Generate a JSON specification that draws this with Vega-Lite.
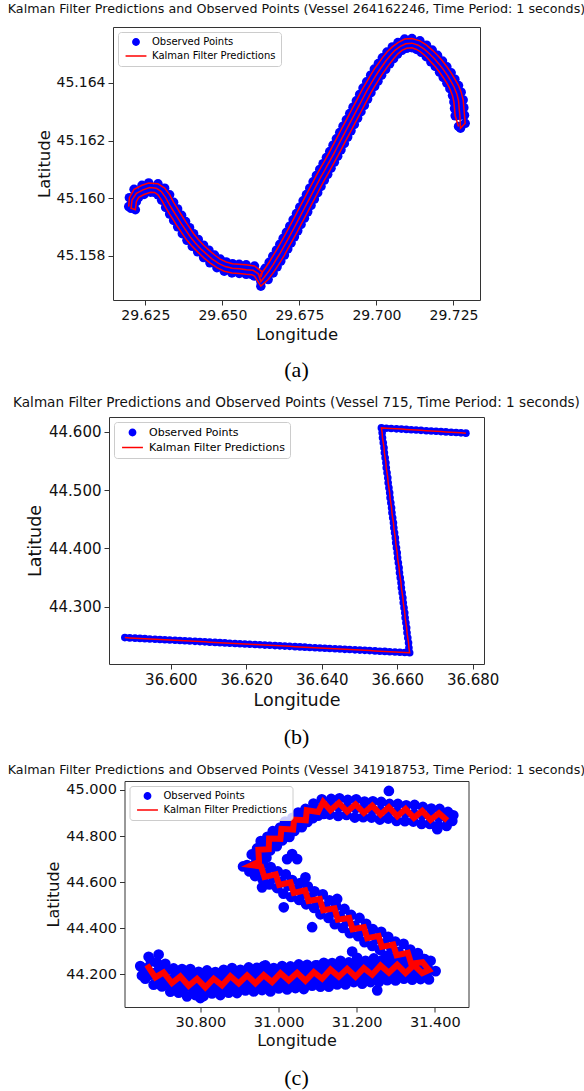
{
"$schema":"https://vega.github.io/schema/vega-lite/v6.json",
"autosize":{"type":"none"},
"padding":{"left":109,"top":27,"right":475,"bottom":1064},
"background":"white",
"spacing":40,
"center":true,
"bounds":"flush",
"resolve":{"scale":{"color":"independent","shape":"independent"},"legend":{"color":"independent","shape":"independent"}},
"config":{
"font":"DejaVu Sans",
"view":{"stroke":"#333333","strokeWidth":1},
"axis":{"domain":false,"grid":false,"tickColor":"#333333","tickSize":5,"tickWidth":1,"labelPadding":3,"titlePadding":4,"labelColor":"#111111","titleColor":"#111111","labelFont":"DejaVu Sans","titleFont":"DejaVu Sans","titleFontWeight":"normal","labelOverlap":false,"labelFlush":false},
"title":{"font":"DejaVu Sans","fontWeight":"normal","color":"#111111","anchor":"middle","frame":"group"},
"legend":{"orient":"top-left","offset":5,"padding":5,"fillColor":"rgba(255,255,255,0.8)","strokeColor":"#cccccc","cornerRadius":3,"labelFont":"DejaVu Sans","labelFontSize":10,"labelColor":"#000000","symbolSize":40,"symbolStrokeWidth":1.5,"rowPadding":2,"symbolOffset":8,"labelOffset":11}
},
"datasets":{
"a":[
{"x":29.6196,"y":45.15971},{"x":29.61982,"y":45.16002},{"x":29.62133,"y":45.16031},{"x":29.62392,"y":45.16045},{"x":29.62608,"y":45.16053},{"x":29.6291,"y":45.1605},{"x":29.63126,"y":45.16035},{"x":29.63288,"y":45.16012},{"x":29.63418,"y":45.15986},{"x":29.63548,"y":45.15963},{"x":29.63677,"y":45.15941},{"x":29.63807,"y":45.15919},{"x":29.63936,"y":45.15898},{"x":29.64066,"y":45.15877},{"x":29.64217,"y":45.15857},{"x":29.6439,"y":45.15837},{"x":29.64563,"y":45.1582},{"x":29.64746,"y":45.15803},{"x":29.6493,"y":45.15789},{"x":29.65124,"y":45.15779},{"x":29.6533,"y":45.15773},{"x":29.65546,"y":45.15771},{"x":29.65772,"y":45.15769},{"x":29.66042,"y":45.15765},{"x":29.66302,"y":45.15744},{"x":29.66248,"y":45.15727},{"x":29.66248,"y":45.15736},{"x":29.66388,"y":45.15757},{"x":29.66518,"y":45.15778},{"x":29.66636,"y":45.15799},{"x":29.66755,"y":45.1582},{"x":29.66863,"y":45.1584},{"x":29.66971,"y":45.15861},{"x":29.67079,"y":45.15882},{"x":29.67187,"y":45.15903},{"x":29.67295,"y":45.15925},{"x":29.67403,"y":45.15947},{"x":29.67511,"y":45.15969},{"x":29.67619,"y":45.15991},{"x":29.67727,"y":45.16013},{"x":29.67835,"y":45.16035},{"x":29.67943,"y":45.16057},{"x":29.68051,"y":45.16079},{"x":29.68159,"y":45.161},{"x":29.68267,"y":45.1612},{"x":29.68375,"y":45.16141},{"x":29.68483,"y":45.16162},{"x":29.68591,"y":45.16184},{"x":29.68699,"y":45.16206},{"x":29.68807,"y":45.16228},{"x":29.68915,"y":45.1625},{"x":29.69023,"y":45.16272},{"x":29.69131,"y":45.16294},{"x":29.69239,"y":45.16316},{"x":29.69347,"y":45.16338},{"x":29.69455,"y":45.1636},{"x":29.69563,"y":45.16382},{"x":29.69682,"y":45.16404},{"x":29.69812,"y":45.16427},{"x":29.6993,"y":45.16448},{"x":29.7006,"y":45.16467},{"x":29.7019,"y":45.16487},{"x":29.70341,"y":45.16507},{"x":29.70514,"y":45.16525},{"x":29.70697,"y":45.1654},{"x":29.70913,"y":45.16552},{"x":29.71151,"y":45.16554},{"x":29.7141,"y":45.16546},{"x":29.71626,"y":45.16531},{"x":29.7181,"y":45.16514},{"x":29.71982,"y":45.16496},{"x":29.72144,"y":45.16476},{"x":29.72285,"y":45.16456},{"x":29.72425,"y":45.16435},{"x":29.72544,"y":45.16413},{"x":29.72663,"y":45.16391},{"x":29.72749,"y":45.16368},{"x":29.72814,"y":45.16341},{"x":29.72836,"y":45.16314},{"x":29.72857,"y":45.16288},{"x":29.72879,"y":45.1626},
{"x":29.72728,"y":45.16243},{"x":29.72706,"y":45.16287},{"x":29.72684,"y":45.16312},{"x":29.72663,"y":45.16338},{"x":29.72609,"y":45.16362},{"x":29.72522,"y":45.16385},{"x":29.72414,"y":45.16406},{"x":29.72296,"y":45.16427},{"x":29.72166,"y":45.16447},{"x":29.72026,"y":45.16466},{"x":29.71874,"y":45.16485},{"x":29.71712,"y":45.16502},{"x":29.7154,"y":45.16518},{"x":29.71356,"y":45.16531},{"x":29.71151,"y":45.16538},{"x":29.70946,"y":45.16536},{"x":29.70762,"y":45.16526},{"x":29.706,"y":45.16513},{"x":29.70449,"y":45.16495},{"x":29.70308,"y":45.16477},{"x":29.70179,"y":45.16457},{"x":29.70049,"y":45.16437},{"x":29.6993,"y":45.16417},{"x":29.69812,"y":45.16396},{"x":29.69693,"y":45.16374},{"x":29.69585,"y":45.16352},{"x":29.69477,"y":45.1633},{"x":29.69369,"y":45.16308},{"x":29.69261,"y":45.16286},{"x":29.69153,"y":45.16264},{"x":29.69045,"y":45.16242},{"x":29.68937,"y":45.1622},{"x":29.68829,"y":45.16198},{"x":29.68721,"y":45.16176},{"x":29.68613,"y":45.16154},{"x":29.68505,"y":45.16133},{"x":29.68397,"y":45.16112},{"x":29.68289,"y":45.16091},{"x":29.68181,"y":45.16071},{"x":29.68073,"y":45.16049},{"x":29.67965,"y":45.16027},{"x":29.67857,"y":45.16005},{"x":29.67749,"y":45.15983},{"x":29.67641,"y":45.15961},{"x":29.67533,"y":45.15939},{"x":29.67425,"y":45.15917},{"x":29.67317,"y":45.15895},{"x":29.67209,"y":45.15874},{"x":29.67101,"y":45.15853},{"x":29.66993,"y":45.15832},{"x":29.66885,"y":45.15811},{"x":29.66766,"y":45.15791},{"x":29.66647,"y":45.1577},{"x":29.66518,"y":45.15749},{"x":29.66366,"y":45.15727},{"x":29.66248,"y":45.15711},{"x":29.66172,"y":45.15737},{"x":29.65999,"y":45.1575},{"x":29.65772,"y":45.15752},{"x":29.65546,"y":45.15755},{"x":29.65319,"y":45.15757},{"x":29.65092,"y":45.15763},{"x":29.64876,"y":45.15774},{"x":29.64671,"y":45.15789},{"x":29.64476,"y":45.15807},{"x":29.64293,"y":45.15825},{"x":29.6412,"y":45.15845},{"x":29.63958,"y":45.15866},{"x":29.63818,"y":45.15888},{"x":29.63677,"y":45.1591},{"x":29.63548,"y":45.15932},{"x":29.63418,"y":45.15954},{"x":29.63288,"y":45.15977},{"x":29.63159,"y":45.16002},{"x":29.63018,"y":45.16023},{"x":29.62856,"y":45.16035},{"x":29.6264,"y":45.16037},{"x":29.62424,"y":45.16029},{"x":29.62208,"y":45.16017},{"x":29.62068,"y":45.15994},{"x":29.62036,"y":45.15965},
{"x":29.62176,"y":45.1596},{"x":29.62208,"y":45.15988},{"x":29.62284,"y":45.16003},{"x":29.62457,"y":45.16013},{"x":29.62673,"y":45.16021},{"x":29.62802,"y":45.1602},{"x":29.6291,"y":45.16012},{"x":29.63029,"y":45.15993},{"x":29.63159,"y":45.15968},{"x":29.63288,"y":45.15945},{"x":29.63418,"y":45.15923},{"x":29.63548,"y":45.15901},{"x":29.63699,"y":45.15877},{"x":29.6385,"y":45.15854},{"x":29.64023,"y":45.15833},{"x":29.64196,"y":45.15814},{"x":29.6439,"y":45.15794},{"x":29.64595,"y":45.15776},{"x":29.64822,"y":45.15759},{"x":29.6506,"y":45.15747},{"x":29.65308,"y":45.15741},{"x":29.65546,"y":45.15739},{"x":29.65772,"y":45.15736},{"x":29.65956,"y":45.15735},{"x":29.66042,"y":45.1573},{"x":29.66248,"y":45.15695},{"x":29.66485,"y":45.15718},{"x":29.66647,"y":45.15741},{"x":29.66777,"y":45.15762},{"x":29.66896,"y":45.15782},{"x":29.67014,"y":45.15803},{"x":29.67122,"y":45.15824},{"x":29.6723,"y":45.15845},{"x":29.67338,"y":45.15866},{"x":29.67446,"y":45.15887},{"x":29.67554,"y":45.15909},{"x":29.67662,"y":45.15931},{"x":29.6777,"y":45.15953},{"x":29.67878,"y":45.15975},{"x":29.67986,"y":45.15997},{"x":29.68094,"y":45.16019},{"x":29.68202,"y":45.16041},{"x":29.6831,"y":45.16063},{"x":29.68418,"y":45.16083},{"x":29.68526,"y":45.16104},{"x":29.68634,"y":45.16125},{"x":29.68742,"y":45.16146},{"x":29.6885,"y":45.16168},{"x":29.68958,"y":45.1619},{"x":29.69066,"y":45.16212},{"x":29.69174,"y":45.16234},{"x":29.69282,"y":45.16256},{"x":29.6939,"y":45.16278},{"x":29.69498,"y":45.163},{"x":29.69606,"y":45.16322},{"x":29.69714,"y":45.16344},{"x":29.69822,"y":45.16366},{"x":29.69941,"y":45.16388},{"x":29.70049,"y":45.16406},{"x":29.70168,"y":45.16427},{"x":29.70298,"y":45.16447},{"x":29.70427,"y":45.16466},{"x":29.70557,"y":45.16484},{"x":29.70686,"y":45.165},{"x":29.70827,"y":45.16513},{"x":29.70978,"y":45.1652},{"x":29.71151,"y":45.16522},{"x":29.71302,"y":45.16516},{"x":29.71453,"y":45.16506},{"x":29.71615,"y":45.16491},{"x":29.71766,"y":45.16473},{"x":29.71907,"y":45.16457},{"x":29.72047,"y":45.16437},{"x":29.72166,"y":45.16419},{"x":29.72285,"y":45.16399},{"x":29.72382,"y":45.1638},{"x":29.72468,"y":45.16356},{"x":29.72512,"y":45.16334},{"x":29.72533,"y":45.16311},{"x":29.72555,"y":45.16286},{"x":29.72663,"y":45.16249}
],
"b":[
{"x":36.5878,"y":44.247},{"x":36.5891,"y":44.2465},{"x":36.5905,"y":44.2461},{"x":36.5918,"y":44.2456},{"x":36.5931,"y":44.2452},{"x":36.5944,"y":44.2447},{"x":36.5958,"y":44.2443},{"x":36.5971,"y":44.2438},{"x":36.5984,"y":44.2434},{"x":36.5997,"y":44.2429},{"x":36.6011,"y":44.2424},{"x":36.6024,"y":44.242},{"x":36.6037,"y":44.2415},{"x":36.605,"y":44.2411},{"x":36.6064,"y":44.2406},{"x":36.6077,"y":44.2402},{"x":36.609,"y":44.2397},{"x":36.6103,"y":44.2392},{"x":36.6117,"y":44.2388},{"x":36.613,"y":44.2383},{"x":36.6143,"y":44.2379},{"x":36.6156,"y":44.2374},{"x":36.617,"y":44.237},{"x":36.6183,"y":44.2365},{"x":36.6196,"y":44.2361},{"x":36.6209,"y":44.2356},{"x":36.6223,"y":44.2351},{"x":36.6236,"y":44.2347},{"x":36.6249,"y":44.2342},{"x":36.6262,"y":44.2338},{"x":36.6276,"y":44.2333},{"x":36.6289,"y":44.2329},{"x":36.6302,"y":44.2324},{"x":36.6315,"y":44.232},{"x":36.6329,"y":44.2315},{"x":36.6342,"y":44.231},{"x":36.6355,"y":44.2306},{"x":36.6368,"y":44.2301},{"x":36.6382,"y":44.2297},{"x":36.6395,"y":44.2292},{"x":36.6408,"y":44.2288},{"x":36.6421,"y":44.2283},{"x":36.6435,"y":44.2278},{"x":36.6448,"y":44.2274},{"x":36.6461,"y":44.2269},{"x":36.6474,"y":44.2265},{"x":36.6488,"y":44.226},{"x":36.6501,"y":44.2256},{"x":36.6514,"y":44.2251},{"x":36.6527,"y":44.2247},{"x":36.6541,"y":44.2242},{"x":36.6554,"y":44.2237},{"x":36.6567,"y":44.2233},{"x":36.658,"y":44.2228},{"x":36.6594,"y":44.2224},{"x":36.6607,"y":44.2219},{"x":36.662,"y":44.2215},{"x":36.6633,"y":44.221},
{"x":36.6631,"y":44.2296},{"x":36.663,"y":44.2382},{"x":36.6628,"y":44.2467},{"x":36.6626,"y":44.2553},{"x":36.6625,"y":44.2639},{"x":36.6623,"y":44.2725},{"x":36.6621,"y":44.2811},{"x":36.662,"y":44.2896},{"x":36.6618,"y":44.2982},{"x":36.6616,"y":44.3068},{"x":36.6615,"y":44.3154},{"x":36.6613,"y":44.324},{"x":36.6611,"y":44.3325},{"x":36.661,"y":44.3411},{"x":36.6608,"y":44.3497},{"x":36.6606,"y":44.3583},{"x":36.6605,"y":44.3669},{"x":36.6603,"y":44.3754},{"x":36.6601,"y":44.384},{"x":36.66,"y":44.3926},{"x":36.6598,"y":44.4012},{"x":36.6596,"y":44.4098},{"x":36.6595,"y":44.4183},{"x":36.6593,"y":44.4269},{"x":36.6591,"y":44.4355},{"x":36.659,"y":44.4441},{"x":36.6588,"y":44.4527},{"x":36.6586,"y":44.4612},{"x":36.6585,"y":44.4698},{"x":36.6583,"y":44.4784},{"x":36.6581,"y":44.487},{"x":36.658,"y":44.4956},{"x":36.6578,"y":44.5041},{"x":36.6576,"y":44.5127},{"x":36.6575,"y":44.5213},{"x":36.6573,"y":44.5299},{"x":36.6571,"y":44.5385},{"x":36.657,"y":44.547},{"x":36.6568,"y":44.5556},{"x":36.6566,"y":44.5642},{"x":36.6565,"y":44.5728},{"x":36.6563,"y":44.5814},{"x":36.6561,"y":44.5899},{"x":36.656,"y":44.5985},{"x":36.6558,"y":44.607},
{"x":36.6571,"y":44.6065},{"x":36.6584,"y":44.6059},{"x":36.6598,"y":44.6054},{"x":36.6611,"y":44.6049},{"x":36.6624,"y":44.6044},{"x":36.6637,"y":44.6038},{"x":36.665,"y":44.6033},{"x":36.6663,"y":44.6028},{"x":36.6677,"y":44.6022},{"x":36.669,"y":44.6017},{"x":36.6703,"y":44.6012},{"x":36.6716,"y":44.6006},{"x":36.6729,"y":44.6001},{"x":36.6743,"y":44.5996},{"x":36.6756,"y":44.5991},{"x":36.6769,"y":44.5985},{"x":36.6782,"y":44.598}
],
"c_obs":[
{"x":30.6634,"y":44.2276},{"x":30.6848,"y":44.2074},{"x":30.7061,"y":44.1916},{"x":30.7274,"y":44.1801},{"x":30.7488,"y":44.1714},{"x":30.7701,"y":44.1657},{"x":30.7915,"y":44.1642},{"x":30.8128,"y":44.1642},{"x":30.8342,"y":44.1671},{"x":30.8555,"y":44.17},{"x":30.8768,"y":44.1729},{"x":30.8982,"y":44.1757},{"x":30.9195,"y":44.1786},{"x":30.9409,"y":44.1815},{"x":30.9622,"y":44.1829},{"x":30.9836,"y":44.1844},{"x":31.0049,"y":44.1858},{"x":31.0262,"y":44.1887},{"x":31.0476,"y":44.1902},{"x":31.0689,"y":44.193},{"x":31.0903,"y":44.1959},{"x":31.1116,"y":44.1988},{"x":31.1329,"y":44.2017},{"x":31.1543,"y":44.2046},{"x":31.1756,"y":44.2074},{"x":31.197,"y":44.2103},{"x":31.2183,"y":44.2132},{"x":31.2397,"y":44.2161},{"x":31.261,"y":44.219},{"x":31.2823,"y":44.2219},{"x":31.3037,"y":44.2247},{"x":31.325,"y":44.2262},{"x":31.3464,"y":44.2262},{"x":31.3677,"y":44.2233},{"x":31.3848,"y":44.219},
{"x":30.6736,"y":44.2564},{"x":30.695,"y":44.2362},{"x":30.7163,"y":44.2204},{"x":30.7376,"y":44.2089},{"x":30.759,"y":44.2002},{"x":30.7803,"y":44.1945},{"x":30.8017,"y":44.193},{"x":30.823,"y":44.193},{"x":30.8444,"y":44.1959},{"x":30.8657,"y":44.1988},{"x":30.887,"y":44.2017},{"x":30.9084,"y":44.2045},{"x":30.9297,"y":44.2074},{"x":30.9511,"y":44.2103},{"x":30.9724,"y":44.2117},{"x":30.9938,"y":44.2132},{"x":31.0151,"y":44.2146},{"x":31.0364,"y":44.2175},{"x":31.0578,"y":44.219},{"x":31.0791,"y":44.2218},{"x":31.1005,"y":44.2247},{"x":31.1218,"y":44.2276},{"x":31.1431,"y":44.2305},{"x":31.1645,"y":44.2334},{"x":31.1858,"y":44.2362},{"x":31.2072,"y":44.2391},{"x":31.2285,"y":44.242},{"x":31.2499,"y":44.2449},{"x":31.2712,"y":44.2478},{"x":31.2925,"y":44.2507},{"x":31.3139,"y":44.2535},{"x":31.3352,"y":44.255},{"x":31.3566,"y":44.255},{"x":31.3779,"y":44.2521},
{"x":30.6736,"y":44.1988},{"x":30.695,"y":44.1786},{"x":30.7163,"y":44.1628},{"x":30.7376,"y":44.1513},{"x":30.759,"y":44.1426},{"x":30.7803,"y":44.1369},{"x":30.8017,"y":44.1354},{"x":30.823,"y":44.1354},{"x":30.8444,"y":44.1383},{"x":30.8657,"y":44.1412},{"x":30.887,"y":44.1441},{"x":30.9084,"y":44.1469},{"x":30.9297,"y":44.1498},{"x":30.9511,"y":44.1527},{"x":30.9724,"y":44.1541},{"x":30.9938,"y":44.1556},{"x":31.0151,"y":44.157},{"x":31.0364,"y":44.1599},{"x":31.0578,"y":44.1614},{"x":31.0791,"y":44.1642},{"x":31.1005,"y":44.1671},{"x":31.1218,"y":44.17},{"x":31.1431,"y":44.1729},{"x":31.1645,"y":44.1758},{"x":31.1858,"y":44.1786},{"x":31.2072,"y":44.1815},{"x":31.2285,"y":44.1844},{"x":31.2499,"y":44.1873},{"x":31.2712,"y":44.1902},{"x":31.2925,"y":44.1931},{"x":31.3139,"y":44.1959},{"x":31.3352,"y":44.1974},{"x":31.3566,"y":44.1974},{"x":31.3779,"y":44.1945},
{"x":31.3634,"y":44.2391},{"x":31.3447,"y":44.2608},{"x":31.3259,"y":44.2795},{"x":31.3071,"y":44.2982},{"x":31.2883,"y":44.3155},{"x":31.2695,"y":44.3343},{"x":31.2508,"y":44.353},{"x":31.232,"y":44.3717},{"x":31.2132,"y":44.3905},{"x":31.1944,"y":44.4106},{"x":31.1756,"y":44.4308},{"x":31.1569,"y":44.4524},{"x":31.1381,"y":44.4726},{"x":31.1193,"y":44.4928},{"x":31.1005,"y":44.5129},{"x":31.0817,"y":44.5331},{"x":31.0629,"y":44.5504},{"x":31.0442,"y":44.5677},{"x":31.0254,"y":44.585},{"x":31.0066,"y":44.6023},{"x":30.9878,"y":44.6196},{"x":30.969,"y":44.6369},{"x":30.9502,"y":44.6542},{"x":30.9349,"y":44.6714},
{"x":30.9434,"y":44.7003},{"x":30.9554,"y":44.7291},{"x":30.9682,"y":44.755},{"x":30.9827,"y":44.7781},{"x":30.9981,"y":44.7997},{"x":31.0143,"y":44.8199},{"x":31.0305,"y":44.84},{"x":31.0467,"y":44.8602},{"x":31.0629,"y":44.8804},{"x":31.0792,"y":44.9006},{"x":31.0962,"y":44.9179},{"x":31.1142,"y":44.9308},
{"x":31.1329,"y":44.9294},{"x":31.1543,"y":44.9265},{"x":31.1756,"y":44.9236},{"x":31.197,"y":44.9207},{"x":31.2183,"y":44.9179},{"x":31.2397,"y":44.915},{"x":31.261,"y":44.9107},{"x":31.2823,"y":44.9078},{"x":31.3037,"y":44.9034},{"x":31.325,"y":44.9006},{"x":31.3464,"y":44.8962},{"x":31.3677,"y":44.8919},{"x":31.3891,"y":44.8876},{"x":31.4104,"y":44.8818},{"x":31.4317,"y":44.8761},
{"x":30.6677,"y":44.2766},{"x":30.689,"y":44.2507},{"x":30.7104,"y":44.2463},{"x":30.7317,"y":44.2262},{"x":30.7531,"y":44.2233},{"x":30.7744,"y":44.2233},{"x":30.7957,"y":44.2118},{"x":30.8171,"y":44.2175},{"x":30.8384,"y":44.2103},{"x":30.8598,"y":44.2204},{"x":30.8811,"y":44.2276},{"x":30.9024,"y":44.2204},{"x":30.9238,"y":44.2305},{"x":30.9451,"y":44.2291},{"x":30.9665,"y":44.2391},{"x":30.9878,"y":44.2276},{"x":31.0092,"y":44.2363},{"x":31.0305,"y":44.2348},{"x":31.0518,"y":44.2435},{"x":31.0732,"y":44.242},{"x":31.0945,"y":44.2391},{"x":31.1159,"y":44.2507},{"x":31.1372,"y":44.2492},{"x":31.1586,"y":44.2593},{"x":31.1799,"y":44.2521},{"x":31.2012,"y":44.2608},{"x":31.2226,"y":44.2593},{"x":31.2439,"y":44.2694},{"x":31.2653,"y":44.2622},{"x":31.2866,"y":44.2709},{"x":31.308,"y":44.2766},{"x":31.3293,"y":44.2709},{"x":31.3506,"y":44.2766},{"x":31.372,"y":44.2665},{"x":31.3891,"y":44.2593},
{"x":30.6591,"y":44.1815},{"x":30.6805,"y":44.1556},{"x":30.7018,"y":44.1484},{"x":30.7232,"y":44.1253},{"x":30.7445,"y":44.121},{"x":30.7659,"y":44.1051},{"x":30.7872,"y":44.1109},{"x":30.8085,"y":44.1066},{"x":30.8299,"y":44.1181},{"x":30.8512,"y":44.1109},{"x":30.8726,"y":44.121},{"x":30.8939,"y":44.1195},{"x":30.9153,"y":44.1311},{"x":30.9366,"y":44.1267},{"x":30.9579,"y":44.1325},{"x":30.9793,"y":44.1267},{"x":31.0006,"y":44.1397},{"x":31.022,"y":44.1354},{"x":31.0433,"y":44.1412},{"x":31.0647,"y":44.1368},{"x":31.086,"y":44.1512},{"x":31.1073,"y":44.1469},{"x":31.1287,"y":44.1469},{"x":31.15,"y":44.157},{"x":31.1714,"y":44.157},{"x":31.1927,"y":44.1671},{"x":31.2141,"y":44.1599},{"x":31.2354,"y":44.1671},{"x":31.2567,"y":44.1671},{"x":31.2781,"y":44.1757},{"x":31.2994,"y":44.1743},{"x":31.3208,"y":44.1815},{"x":31.3421,"y":44.1772},{"x":31.3634,"y":44.1801},{"x":31.3848,"y":44.1786},
{"x":31.3737,"y":44.2665},{"x":31.3566,"y":44.2925},{"x":31.337,"y":44.3083},{"x":31.3199,"y":44.3328},{"x":31.2986,"y":44.3429},{"x":31.2806,"y":44.3631},{"x":31.2627,"y":44.3847},{"x":31.2414,"y":44.3962},{"x":31.2243,"y":44.4193},{"x":31.2072,"y":44.4452},{"x":31.1859,"y":44.4582},{"x":31.1688,"y":44.4841},{"x":31.1475,"y":44.4971},{"x":31.1304,"y":44.5216},{"x":31.1133,"y":44.5475},{"x":31.092,"y":44.5605},{"x":31.0749,"y":44.5821},{"x":31.0553,"y":44.5965},{"x":31.0348,"y":44.6095},{"x":31.0186,"y":44.634},{"x":30.9981,"y":44.6469},{"x":30.9801,"y":44.6657},{"x":30.9596,"y":44.6787},{"x":30.9443,"y":44.6959},
{"x":31.3523,"y":44.2103},{"x":31.3353,"y":44.2363},{"x":31.3139,"y":44.2478},{"x":31.2969,"y":44.2709},{"x":31.2755,"y":44.2809},{"x":31.2593,"y":44.3069},{"x":31.2397,"y":44.3242},{"x":31.22,"y":44.34},{"x":31.2038,"y":44.366},{"x":31.1825,"y":44.3789},{"x":31.1645,"y":44.402},{"x":31.144,"y":44.4178},{"x":31.1278,"y":44.4452},{"x":31.1073,"y":44.4611},{"x":31.0911,"y":44.4884},{"x":31.0706,"y":44.5043},{"x":31.0527,"y":44.523},{"x":31.0322,"y":44.536},{"x":31.0126,"y":44.5504},{"x":30.9964,"y":44.5749},{"x":30.9767,"y":44.5908},{"x":30.9596,"y":44.6124},{"x":30.94,"y":44.6268},{"x":30.9255,"y":44.6469},
{"x":30.9315,"y":44.7204},{"x":30.9451,"y":44.7464},{"x":30.9545,"y":44.7781},{"x":30.9716,"y":44.7968},{"x":30.9853,"y":44.8213},{"x":31.004,"y":44.8372},{"x":31.0168,"y":44.8631},{"x":31.0356,"y":44.879},{"x":31.0501,"y":44.902},{"x":31.0689,"y":44.9179},{"x":31.0894,"y":44.9409},{"x":31.1107,"y":44.9597},
{"x":30.9545,"y":44.6815},{"x":30.969,"y":44.706},{"x":30.9784,"y":44.7377},{"x":30.9955,"y":44.7565},{"x":31.0092,"y":44.781},{"x":31.0279,"y":44.7968},{"x":31.0407,"y":44.8227},{"x":31.0595,"y":44.8386},{"x":31.074,"y":44.8617},{"x":31.0877,"y":44.8775},{"x":31.1014,"y":44.889},{"x":31.1159,"y":44.8962},
{"x":31.1347,"y":44.9611},{"x":31.156,"y":44.964},{"x":31.1773,"y":44.9568},{"x":31.1987,"y":44.9597},{"x":31.22,"y":44.9496},{"x":31.2414,"y":44.951},{"x":31.2627,"y":44.9481},{"x":31.284,"y":44.9395},{"x":31.3054,"y":44.9395},{"x":31.3267,"y":44.9337},{"x":31.3481,"y":44.9352},{"x":31.3694,"y":44.9265},{"x":31.3908,"y":44.9193},{"x":31.4121,"y":44.9179},{"x":31.4335,"y":44.9049},
{"x":31.1312,"y":44.8934},{"x":31.1526,"y":44.8876},{"x":31.1739,"y":44.8919},{"x":31.1953,"y":44.8804},{"x":31.2166,"y":44.8818},{"x":31.238,"y":44.8804},{"x":31.2593,"y":44.8717},{"x":31.2806,"y":44.8761},{"x":31.302,"y":44.866},{"x":31.3233,"y":44.8645},{"x":31.3447,"y":44.8631},{"x":31.366,"y":44.853},{"x":31.3873,"y":44.853},{"x":31.4087,"y":44.8458},{"x":31.43,"y":44.8444},
{"x":31.2823,"y":44.9957},{"x":31.0476,"y":44.7003},{"x":31.0689,"y":44.621},{"x":31.0134,"y":44.4913},{"x":31.086,"y":44.4049},{"x":30.9579,"y":44.5778},{"x":30.9093,"y":44.6686},{"x":30.9195,"y":44.6743},{"x":31.1884,"y":44.2997},{"x":31.2012,"y":44.2723},{"x":31.15,"y":44.5274},{"x":31.4445,"y":44.866},{"x":31.4471,"y":44.8905},{"x":31.4019,"y":44.2146},{"x":31.2525,"y":44.1311},{"x":30.9622,"y":44.2363},{"x":31.0988,"y":44.2391},{"x":30.6933,"y":44.2867},{"x":30.6463,"y":44.2363},{"x":30.6506,"y":44.1959},{"x":30.8,"y":44.0979},{"x":31.022,"y":44.7003},{"x":31.0348,"y":44.7219},{"x":31.4061,"y":44.83}
],
"c_kf":[
{"x":30.6634,"y":44.242},{"x":30.6848,"y":44.1873},{"x":30.7061,"y":44.2089},{"x":30.7274,"y":44.1628},{"x":30.7488,"y":44.1916},{"x":30.7701,"y":44.1512},{"x":30.7915,"y":44.1815},{"x":30.8128,"y":44.144},{"x":30.8342,"y":44.1815},{"x":30.8555,"y":44.1527},{"x":30.8768,"y":44.193},{"x":30.8982,"y":44.1613},{"x":30.9195,"y":44.1959},{"x":30.9409,"y":44.1613},{"x":30.9622,"y":44.1974},{"x":30.9836,"y":44.1671},{"x":31.0049,"y":44.206},{"x":31.0262,"y":44.1743},{"x":31.0476,"y":44.2074},{"x":31.0689,"y":44.1729},{"x":31.0903,"y":44.2103},{"x":31.1116,"y":44.1815},{"x":31.1329,"y":44.2219},{"x":31.1543,"y":44.1902},{"x":31.1756,"y":44.2247},{"x":31.197,"y":44.1902},{"x":31.2183,"y":44.2276},{"x":31.2397,"y":44.1988},{"x":31.261,"y":44.2392},{"x":31.2823,"y":44.2074},{"x":31.3037,"y":44.242},{"x":31.325,"y":44.206},{"x":31.3464,"y":44.2406},{"x":31.3677,"y":44.206},{"x":31.3848,"y":44.219},
{"x":31.3686,"y":44.2536},{"x":31.3395,"y":44.2463},{"x":31.331,"y":44.2939},{"x":31.302,"y":44.2838},{"x":31.2934,"y":44.3299},{"x":31.2644,"y":44.3198},{"x":31.2559,"y":44.3674},{"x":31.2269,"y":44.3573},{"x":31.2183,"y":44.4049},{"x":31.1893,"y":44.3962},{"x":31.1808,"y":44.4452},{"x":31.1517,"y":44.438},{"x":31.1432,"y":44.487},{"x":31.1142,"y":44.4784},{"x":31.1056,"y":44.5274},{"x":31.0766,"y":44.5187},{"x":31.0681,"y":44.5648},{"x":31.039,"y":44.5533},{"x":31.0305,"y":44.5994},{"x":31.0015,"y":44.5879},{"x":30.9929,"y":44.634},{"x":30.9639,"y":44.6225},{"x":30.9554,"y":44.6686},{"x":30.9315,"y":44.6743},
{"x":30.9502,"y":44.6887},{"x":30.9485,"y":44.7406},{"x":30.975,"y":44.7435},{"x":30.9759,"y":44.7896},{"x":31.0049,"y":44.7882},{"x":31.0075,"y":44.8314},{"x":31.0373,"y":44.8285},{"x":31.0399,"y":44.8718},{"x":31.0698,"y":44.8689},{"x":31.0723,"y":44.9121},{"x":31.1014,"y":44.9049},{"x":31.1142,"y":44.9481},
{"x":31.1329,"y":44.9121},{"x":31.1543,"y":44.9438},{"x":31.1756,"y":44.9063},{"x":31.197,"y":44.938},{"x":31.2183,"y":44.9006},{"x":31.2397,"y":44.9323},{"x":31.261,"y":44.8934},{"x":31.2823,"y":44.9251},{"x":31.3037,"y":44.8862},{"x":31.325,"y":44.9179},{"x":31.3464,"y":44.879},{"x":31.3677,"y":44.9092},{"x":31.3891,"y":44.8703},{"x":31.4104,"y":44.8991},{"x":31.4317,"y":44.8674}
]
},
"vconcat":[
{
"title":{"text":"Kalman Filter Predictions and Observed Points (Vessel 264162246, Time Period: 1 seconds)","fontSize":12.7,"offset":11},
"width":367,"height":273,
"data":{"name":"a"},
"encoding":{
"x":{"field":"x","type":"quantitative","scale":{"domain":[29.6145,29.7336],"nice":false,"zero":false},"axis":{"title":"Longitude","values":[29.625,29.65,29.675,29.7,29.725],"format":".3f","labelFontSize":14,"titleFontSize":16.5}},
"y":{"field":"y","type":"quantitative","scale":{"domain":[45.15647,45.16594],"nice":false,"zero":false},"axis":{"title":"Latitude","values":[45.158,45.16,45.162,45.164],"format":".3f","labelFontSize":14,"titleFontSize":16.5}}
},
"layer":[
{"mark":{"type":"point","filled":true,"size":90,"opacity":1},
"encoding":{
"color":{"datum":"Observed Points","type":"nominal","scale":{"domain":["Observed Points","Kalman Filter Predictions"],"range":["#0000ff","#ff0000"]},"legend":{"title":null}},
"shape":{"datum":"Observed Points","type":"nominal","scale":{"domain":["Observed Points","Kalman Filter Predictions"],"range":["circle","M-3.3,0L3.3,0"]},"legend":{"title":null}}}},
{"mark":{"type":"line","strokeWidth":1.5},
"encoding":{"color":{"datum":"Kalman Filter Predictions","type":"nominal"},"order":{"value":null}}}
]
},
{"width":375,"height":37,"view":{"stroke":null},"data":{"values":[{"t":"(a)"}]},"mark":{"type":"text","font":"Liberation Serif","fontSize":22,"dy":11.5,"color":"#000000"},"encoding":{"text":{"field":"t","type":"nominal"}}},
{
"title":{"text":"Kalman Filter Predictions and Observed Points (Vessel 715, Time Period: 1 seconds)","fontSize":13.6,"offset":7},
"width":375,"height":247,
"data":{"name":"b"},
"encoding":{
"x":{"field":"x","type":"quantitative","scale":{"domain":[36.5836,36.683],"nice":false,"zero":false},"axis":{"title":"Longitude","values":[36.6,36.62,36.64,36.66,36.68],"format":".3f","labelFontSize":15,"titleFontSize":17.5}},
"y":{"field":"y","type":"quantitative","scale":{"domain":[44.2017,44.6257],"nice":false,"zero":false},"axis":{"title":"Latitude","values":[44.3,44.4,44.5,44.6],"format":".3f","labelFontSize":15,"titleFontSize":17.5}}
},
"layer":[
{"mark":{"type":"point","filled":true,"size":58,"opacity":1},
"encoding":{
"color":{"datum":"Observed Points","type":"nominal","scale":{"domain":["Observed Points","Kalman Filter Predictions"],"range":["#0000ff","#ff0000"]},"legend":{"title":null,"labelFontSize":11}},
"shape":{"datum":"Observed Points","type":"nominal","scale":{"domain":["Observed Points","Kalman Filter Predictions"],"range":["circle","M-3.3,0L3.3,0"]},"legend":{"title":null,"labelFontSize":11}}}},
{"mark":{"type":"line","strokeWidth":1.5},
"encoding":{"color":{"datum":"Kalman Filter Predictions","type":"nominal"},"order":{"value":null}}}
]
},
{"width":375,"height":37,"view":{"stroke":null},"data":{"values":[{"t":"(b)"}]},"mark":{"type":"text","font":"Liberation Serif","fontSize":22,"dy":14,"color":"#000000"},"encoding":{"text":{"field":"t","type":"nominal"}}},
{
"title":{"text":"Kalman Filter Predictions and Observed Points (Vessel 341918753, Time Period: 1 seconds)","fontSize":12.7,"offset":4},
"width":344,"height":226,
"encoding":{
"x":{"field":"x","type":"quantitative","scale":{"domain":[30.606,31.486],"nice":false,"zero":false},"axis":{"title":"Longitude","values":[30.8,31,31.2,31.4],"format":".3f","labelFontSize":14.5,"titleFontSize":16}},
"y":{"field":"y","type":"quantitative","scale":{"domain":[44.059,45.039],"nice":false,"zero":false},"axis":{"title":"Latitude","values":[44.2,44.4,44.6,44.8,45],"format":".3f","labelFontSize":14.5,"titleFontSize":16}}
},
"layer":[
{"data":{"name":"c_obs"},"mark":{"type":"point","filled":true,"size":115,"opacity":1},
"encoding":{
"color":{"datum":"Observed Points","type":"nominal","scale":{"domain":["Observed Points","Kalman Filter Predictions"],"range":["#0000ff","#ff0000"]},"legend":{"title":null}},
"shape":{"datum":"Observed Points","type":"nominal","scale":{"domain":["Observed Points","Kalman Filter Predictions"],"range":["circle","M-3.3,0L3.3,0"]},"legend":{"title":null}}}},
{"data":{"name":"c_kf"},"mark":{"type":"line","strokeWidth":6,"strokeJoin":"miter"},
"encoding":{"color":{"datum":"Kalman Filter Predictions","type":"nominal"},"order":{"value":null}}}
]
},
{"width":375,"height":37,"view":{"stroke":null},"data":{"values":[{"t":"(c)"}]},"mark":{"type":"text","font":"Liberation Serif","fontSize":22,"dy":12.5,"color":"#000000"},"encoding":{"text":{"field":"t","type":"nominal"}}}
]
}
